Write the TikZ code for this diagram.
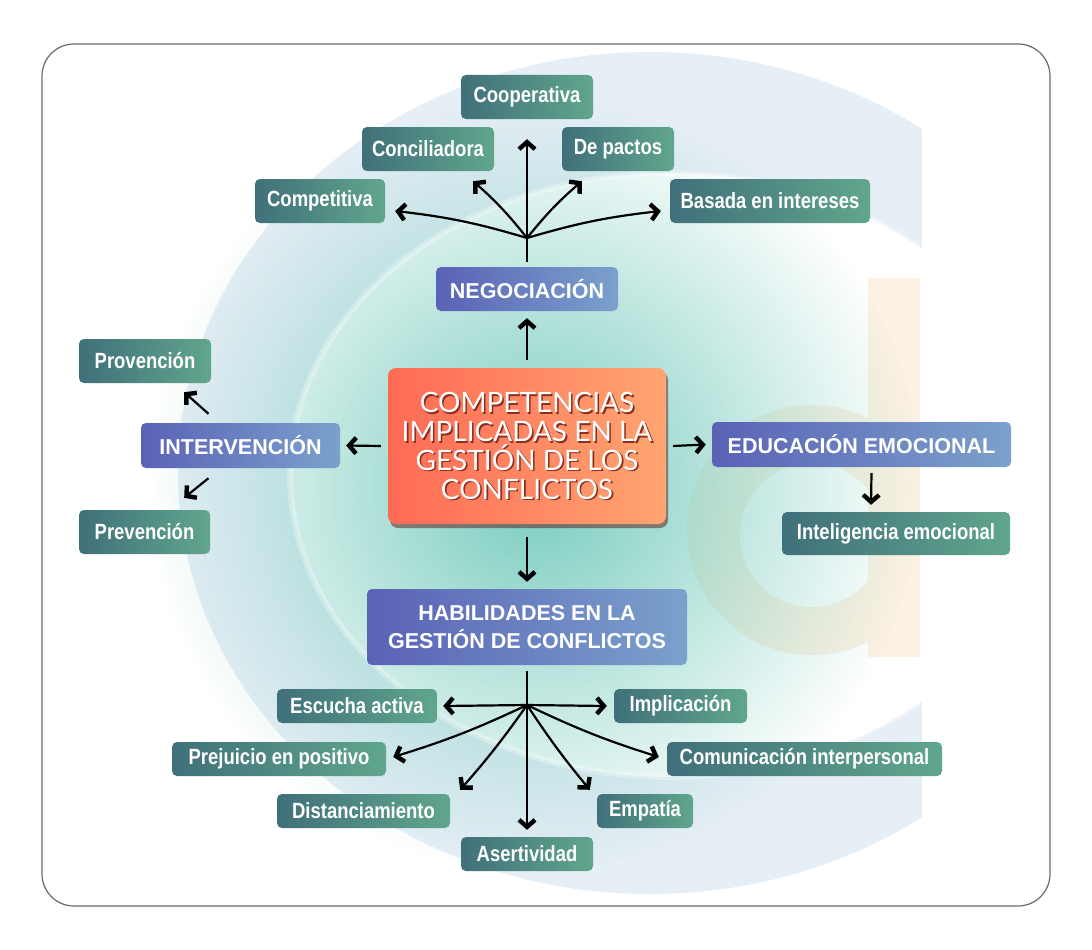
\documentclass[tikz,border=0pt]{standalone}
\usepackage{fontspec}
\setmainfont{Liberation Sans}
\newfontfamily\condf[FakeStretch=0.84]{Liberation Sans}
\newfontfamily\titlef{Lato}
\usetikzlibrary{arrows.meta,shadows,fadings}
\definecolor{gL}{HTML}{40707A}
\definecolor{gR}{HTML}{60A68C}
\definecolor{pL}{HTML}{5A62B6}
\definecolor{pR}{HTML}{7BA1CC}
\definecolor{cL}{HTML}{FF6A55}
\definecolor{cR}{HTML}{FFA571}
\definecolor{bgblue}{HTML}{E6EEF6}
\definecolor{glowc}{HTML}{78CCBE}
\definecolor{dcol}{HTML}{FCF1E2}
\definecolor{tshadow}{HTML}{8A2E1E}
\definecolor{framec}{HTML}{6A6A6A}
\tikzfading[name=glowfade, inner color=transparent!0, outer color=transparent!100]
\begin{document}
\begin{tikzpicture}[x=1pt,y=-1pt,
  gbox/.style={rounded corners=5pt, left color=gL, right color=gR, text=white,
    font=\condf\bfseries\fontsize{22}{24}\selectfont, inner sep=0pt, minimum height=44pt},
  gsmall/.style={gbox, minimum height=34pt},
  pbox/.style={rounded corners=5pt, left color=pL, right color=pR, text=white,
    font=\bfseries\fontsize{21.5}{28}\selectfont, inner sep=0pt, minimum height=45pt, align=center},
  cbox/.style={rounded corners=8pt, left color=cL, right color=cR, inner sep=0pt,
    minimum width=278pt, minimum height=156pt,
    drop shadow={shadow xshift=2pt, shadow yshift=-4pt, opacity=0.45, fill=black!70!red}},
  ctext/.style={font=\titlef\fontsize{28}{28.7}\selectfont, align=center, inner sep=0pt},
  arr/.style={line width=2.2pt, -{Straight Barb[length=7pt,width=16pt,line width=4.4pt]}},
  stem/.style={line width=2.2pt}
]
\useasboundingbox (0,0) rectangle (1092,950);
\fill[white] (0,0) rectangle (1092,950);
% background letter C
\begin{scope}
  \clip (0,0) rectangle (922,950);
  \fill[bgblue, even odd rule] (650,473) ellipse [x radius=472, y radius=421]
                               (670,475) ellipse [x radius=380, y radius=302];
\end{scope}
% background letter d
\begin{scope}
  \clip (600,250) rectangle (920,657);
  \fill[dcol] (812,530) circle (125);
\end{scope}
\fill[dcol] (868,278) rectangle (920,657);
\begin{scope}
  \clip (600,250) rectangle (868,700);
  \fill[white] (812,535) circle (72);
\end{scope}
% glow
\fill[glowc, path fading=glowfade] (535,485) circle (385);
\begin{scope}
  \clip (0,0) rectangle (922,950);
  \draw[white, opacity=0.3, line width=6pt] (670,475) ellipse [x radius=380, y radius=302];
\end{scope}
% frame
\draw[framec, line width=1.2pt, rounded corners=32pt] (42,44) rectangle (1050,906);

% nodes
\node[cbox] (cen) at (527,446) {};
\node[ctext, text=tshadow] (censh) at ([xshift=1.6pt,yshift=-1.6pt]cen.center)
  {COMPETENCIAS\\IMPLICADAS EN LA\\GESTIÓN DE LOS\\CONFLICTOS};
\node[ctext, text=white] (centxt) at (cen.center)
  {COMPETENCIAS\\IMPLICADAS EN LA\\GESTIÓN DE LOS\\CONFLICTOS};

\node[pbox, minimum width=182pt, minimum height=44pt] (neg) at (527,289) {NEGOCIACIÓN};
\node[pbox, minimum width=199pt] (int) at (240.5,445.5) {INTERVENCIÓN};
\node[pbox, minimum width=299pt] (edu) at (861.5,444.5) {EDUCACIÓN EMOCIONAL};
\node[pbox, minimum width=320pt, minimum height=76pt] (hab) at (527,627) {HABILIDADES EN LA\\GESTIÓN DE CONFLICTOS};

\node[gbox, minimum width=132pt] (coop) at (527,97) {Cooperativa};
\node[gbox, minimum width=132pt] (conc) at (428,149) {Conciliadora};
\node[gbox, minimum width=112pt] (pact) at (618,149) {De pactos};
\node[gbox, minimum width=130pt] (comp) at (320,201) {Competitiva};
\node[gbox, minimum width=200pt] (bas) at (770,201) {Basada en intereses};

\node[gbox, minimum width=132pt] (prov) at (145,361) {Provención};
\node[gbox, minimum width=131pt] (prev) at (144.5,532) {Prevención};
\node[gbox, minimum width=228pt, minimum height=43pt] (intel) at (896,533.5) {Inteligencia emocional};

\node[gsmall, minimum width=160pt] (esc) at (357,706) {Escucha activa};
\node[gsmall, minimum width=133pt] (impl) at (680.5,706) {Implicación};
\node[gsmall, minimum width=214pt] (prej) at (279,759) {Prejuicio en positivo};
\node[gsmall, minimum width=275pt] (com) at (804.5,759) {Comunicación interpersonal};
\node[gsmall, minimum width=173pt] (dist) at (363.5,811) {Distanciamiento};
\node[gsmall, minimum width=96pt] (emp) at (645,811) {Empatía};
\node[gsmall, minimum width=132pt] (aser) at (527,854) {Asertividad};

% central arrows
\draw[arr] ([yshift=8pt]cen.north) -- ([yshift=-7pt]neg.south);
\draw[arr] ([xshift=-7pt]cen.west) -- ([xshift=6pt]int.east);
\draw[arr] ([xshift=7pt]cen.east) -- ([xshift=-6pt]edu.west);
\draw[arr] ([yshift=-13pt]cen.south) -- ([yshift=7pt]hab.north);

% negotiation fan
\coordinate (nj) at (527,238);
\draw[stem, shorten <=5pt] (neg.north) -- (nj);
\draw[arr] (nj) -- ([yshift=-20pt]coop.south);
\draw[arr] (nj) to[bend right=5] ([xshift=-21pt,yshift=-10pt]conc.south east);
\draw[arr] (nj) to[bend left=5] ([xshift=20pt,yshift=-10pt]pact.south west);
\draw[arr] (nj) to[bend right=5] ([xshift=10pt,yshift=-10pt]comp.east);
\draw[arr] (nj) to[bend left=5] ([xshift=-9pt,yshift=-10pt]bas.west);

% intervention
\draw[arr] ([xshift=-32pt,yshift=9pt]int.north) -- ([xshift=-27pt,yshift=-9pt]prov.south east);
\draw[arr] ([xshift=-32pt,yshift=-10pt]int.south) -- ([xshift=-26pt,yshift=12pt]prev.north east);

% education
\draw[arr] ([xshift=10pt,yshift=-6pt]edu.south) -- ([xshift=-25pt,yshift=7pt]intel.north);

% skills fan
\coordinate (hj) at (527,705);
\draw[stem, shorten <=6pt] (hab.south) -- (hj);
\draw[arr] (hj) -- ([xshift=6pt]esc.east);
\draw[arr] (hj) -- ([xshift=-7pt]impl.west);
\draw[arr] (hj) to[bend left=4] ([xshift=7pt,yshift=2pt]prej.east);
\draw[arr] (hj) to[bend right=4] ([xshift=-8pt,yshift=2pt]com.west);
\draw[arr] (hj) to[bend left=3] ([xshift=10pt,yshift=4pt]dist.north east);
\draw[arr] (hj) to[bend right=3] ([xshift=-7pt,yshift=4pt]emp.north west);
\draw[arr] (hj) -- ([yshift=7pt]aser.north);
\end{tikzpicture}
\end{document}
